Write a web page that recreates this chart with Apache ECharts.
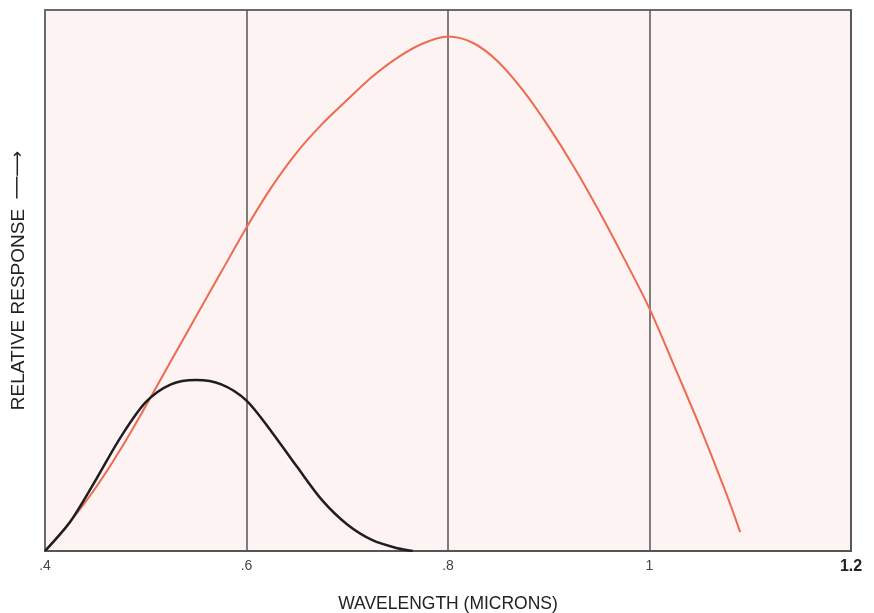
<!DOCTYPE html>
<html>
<head>
<meta charset="utf-8">
<script src="https://cdn.jsdelivr.net/npm/echarts@6/dist/echarts.min.js"></script>
<style>html,body{margin:0;padding:0;background:#fff}#c{width:874px;height:613px}</style>
</head>
<body>
<div id="c"></div>
<script>
// Wavelength (microns) and relative response (0-100)
const blackX = [0.4, 0.425, 0.45, 0.475, 0.5, 0.525, 0.55, 0.575, 0.6, 0.625, 0.65, 0.675, 0.7, 0.725, 0.75, 0.765];
const blackY = [0, 5.4, 13.0, 21.0, 27.5, 30.8, 31.6, 30.8, 27.8, 22.0, 15.6, 9.4, 4.9, 2.0, 0.5, 0];
const redX = [0.4, 0.425, 0.45, 0.475, 0.5, 0.525, 0.55, 0.575, 0.6, 0.625, 0.65, 0.675, 0.7, 0.725, 0.75, 0.775, 0.8, 0.825, 0.85, 0.875, 0.9, 0.925, 0.95, 0.975, 1.0, 1.025, 1.05, 1.075, 1.09];
const redY = [0, 5.4, 11.6, 18.8, 26.8, 35.1, 43.4, 51.6, 59.8, 67.3, 73.7, 78.9, 83.4, 87.7, 91.2, 93.8, 95.1, 93.9, 90.4, 85.0, 78.4, 71.0, 62.8, 54.0, 44.8, 34.0, 23.0, 11.2, 3.5];
const tickLabels = {'0.4': '.4', '0.6': '.6', '0.8': '.8', '1': '1', '1.2': '1.2'};

const zip = (xs, ys) => xs.map((x, i) => [x, ys[i]]);
const chart = echarts.init(document.getElementById('c'));
chart.setOption({
  animation: false,
  backgroundColor: '#ffffff',
  grid: {
    left: 45, right: 23, top: 10, bottom: 62, containLabel: false, outerBoundsMode: 'none',
    show: true, backgroundColor: '#fdf3f3', borderColor: '#6a6a6a', borderWidth: 2
  },
  xAxis: {
    type: 'value', min: 0.4, max: 1.2, interval: 0.2,
    name: 'WAVELENGTH (MICRONS)', nameLocation: 'middle', nameGap: 44,
    nameTextStyle: {fontFamily: 'Liberation Sans', fontSize: 17.5, color: '#222'},
    axisLine: {show: true, lineStyle: {color: '#555', width: 2}},
    axisTick: {show: false},
    splitLine: {show: true, lineStyle: {color: '#555', width: 1.5}},
    axisLabel: {
      margin: 8, fontFamily: 'Liberation Sans', fontSize: 14, color: '#444',
      formatter: v => {
        const k = String(Math.round(v * 10) / 10);
        const t = tickLabels[k] || k;
        return k === '1.2' ? '{b|' + t + '}' : t;
      },
      rich: {b: {fontFamily: 'Liberation Sans', fontSize: 16, fontWeight: 'bold', color: '#222'}}
    }
  },
  yAxis: {
    type: 'value', min: 0, max: 100,
    name: 'RELATIVE RESPONSE  {a|\u2500\u2500\u27F6}', nameLocation: 'middle', nameGap: 17,
    nameTextStyle: {
      fontFamily: 'Liberation Sans', fontSize: 19, color: '#222',
      rich: {a: {fontFamily: 'DejaVu Sans', fontSize: 18, color: '#222'}}
    },
    axisLine: {show: true, lineStyle: {color: '#6a6a6a', width: 2}},
    axisTick: {show: false}, axisLabel: {show: false}, splitLine: {show: false}
  },
  series: [
    {type: 'line', data: zip(redX, redY), smooth: 0.3, symbol: 'none',
     lineStyle: {color: '#ee6a50', width: 2}},
    {type: 'line', data: zip(blackX, blackY), smooth: 0.3, symbol: 'none',
     lineStyle: {color: '#1e1e1e', width: 2.5}}
  ]
});
</script>
</body>
</html>
